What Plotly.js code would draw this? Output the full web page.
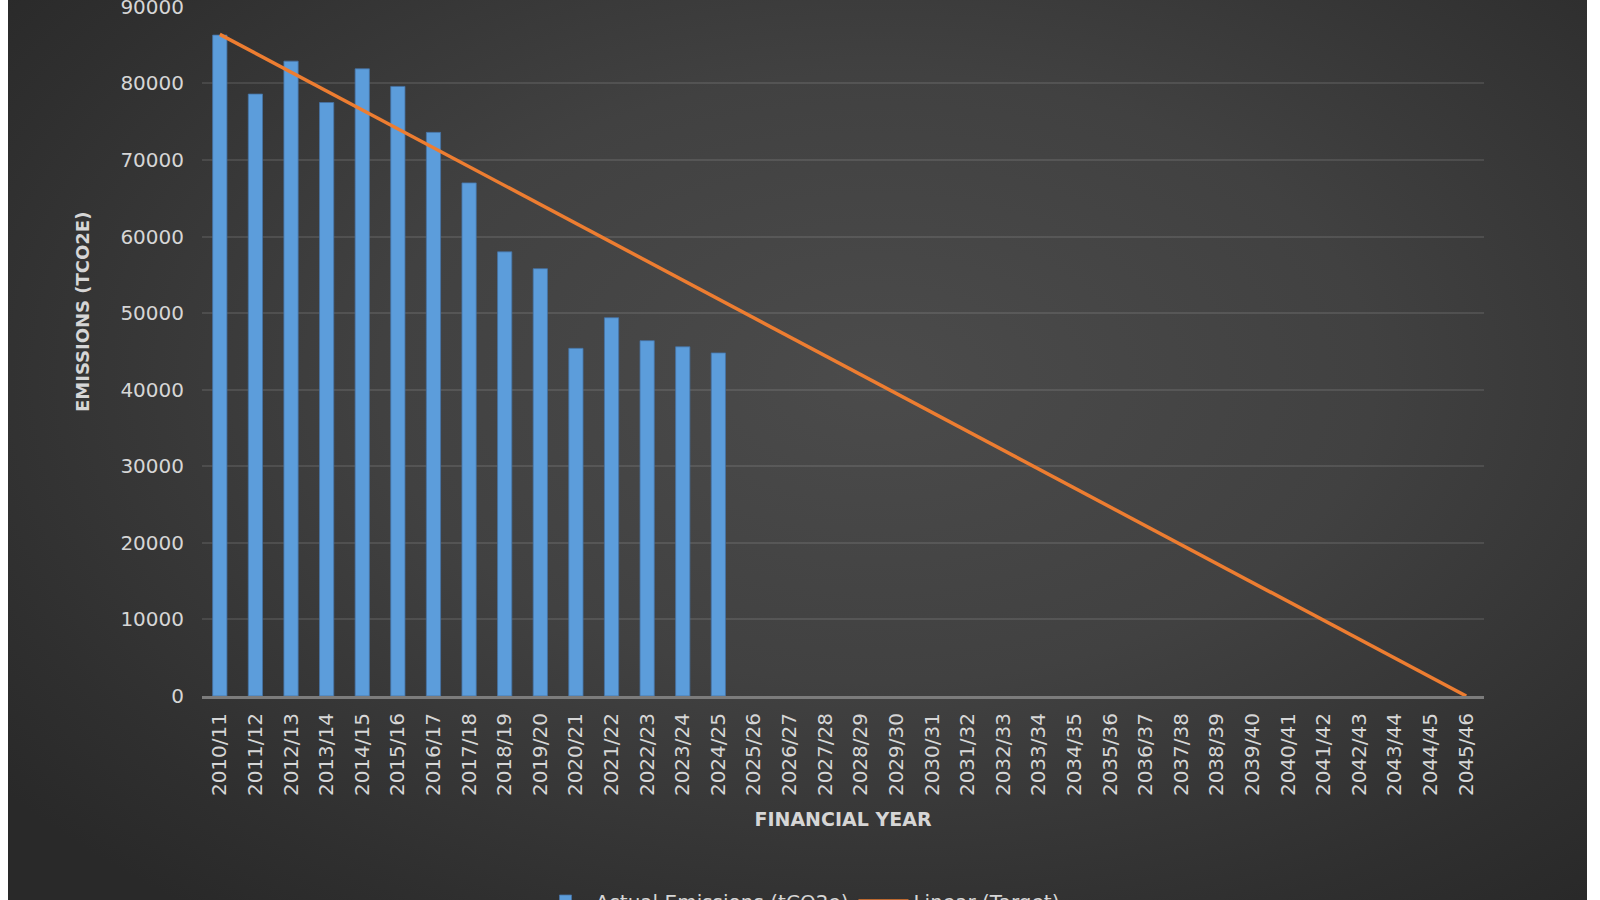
<!DOCTYPE html>
<html>
<head>
<meta charset="utf-8">
<script src="https://cdn.plot.ly/plotly-3.0.1.min.js"></script>
<style>
  html, body { margin: 0; padding: 0; background: #ffffff; }
  #chart {
    position: absolute;
    left: 8px;
    top: 0;
    width: 1579px;
    height: 900px;
    background: radial-gradient(ellipse 70% 75% at 55% 42%, #4b4b4b 0%, #414141 45%, #2f2f2f 85%, #292929 100%);
  }
</style>
</head>
<body>
<div id="chart"></div>
<script>
const years = [
  '2010/11', '2011/12', '2012/13', '2013/14', '2014/15', '2015/16', '2016/17', '2017/18',
  '2018/19', '2019/20', '2020/21', '2021/22', '2022/23', '2023/24', '2024/25', '2025/26',
  '2026/27', '2027/28', '2028/29', '2029/30', '2030/31', '2031/32', '2032/33', '2033/34',
  '2034/35', '2035/36', '2036/37', '2037/38', '2038/39', '2039/40', '2040/41', '2041/42',
  '2042/43', '2043/44', '2044/45', '2045/46'
];
const actualYears = years.slice(0, 15);
const actualEmissions = [
  86300, 78600, 82900, 77500, 81900, 79600, 73600, 67000,
  58000, 55800, 45400, 49400, 46400, 45600, 44800
];
const targetYears = ['2010/11', '2045/46'];
const targetEmissions = [86400, 0];
const yTicks = [0, 10000, 20000, 30000, 40000, 50000, 60000, 70000, 80000, 90000];

const target = document.getElementById('chart');
const width = 1579;
const height = 900;
const margin = { l: 194, r: 103, t: 6, b: 204, autoexpand: false };
const plotW = width - margin.l - margin.r;
const plotH = height - margin.t - margin.b;
const paperX = px => (px - 8 - margin.l) / plotW;
const paperY = py => (height - margin.b - py) / plotH;

const textColor = '#d6d6d6';
const font = 'DejaVu Sans, sans-serif';

const bars = {
  x: actualYears,
  y: actualEmissions,
  type: 'bar',
  name: 'Actual Emissions (tCO2e)',
  width: 0.4,
  marker: {
    color: '#5c9ddb',
    line: { color: 'rgba(70, 115, 165, 0.8)', width: 1 }
  }
};

const targetLine = {
  x: targetYears,
  y: targetEmissions,
  type: 'scatter',
  mode: 'lines',
  name: 'Linear (Target)',
  line: { color: '#ed7d31', width: 3.5 }
};

const layout = {
  width: width,
  height: height,
  paper_bgcolor: 'rgba(0, 0, 0, 0)',
  plot_bgcolor: 'rgba(0, 0, 0, 0)',
  margin: margin,
  font: { family: font, color: textColor, size: 20 },
  xaxis: {
    type: 'category',
    categoryorder: 'array',
    categoryarray: years,
    range: [-0.5, years.length - 0.5],
    tickangle: -90,
    tickfont: { family: font, size: 20, color: textColor },
    ticklabelstandoff: 6,
    automargin: false,
    showline: true,
    linecolor: '#7c7c7c',
    linewidth: 3,
    showgrid: false,
    zeroline: false,
    title: {
      text: '<b>FINANCIAL YEAR</b>',
      font: { family: font, size: 19, color: textColor },
      standoff: 18
    }
  },
  yaxis: {
    range: [0, 90100],
    tickmode: 'array',
    tickvals: yTicks,
    ticktext: yTicks.map(String),
    tickfont: { family: font, size: 20, color: textColor },
    ticklabelstandoff: 17,
    ticklabeloverflow: 'allow',
    automargin: false,
    showline: false,
    gridcolor: 'rgba(255, 255, 255, 0.10)',
    gridwidth: 2,
    zeroline: false
  },
  annotations: [{
    text: '<b>EMISSIONS (TCO2E)</b>',
    xref: 'paper',
    yref: 'paper',
    x: paperX(82),
    y: paperY(312),
    xanchor: 'center',
    yanchor: 'middle',
    textangle: -90,
    showarrow: false,
    font: { family: font, size: 18, color: textColor }
  }],
  showlegend: true,
  legend: {
    orientation: 'h',
    x: paperX(800),
    xanchor: 'center',
    y: paperY(901),
    yanchor: 'middle',
    itemwidth: 50,
    font: { family: font, size: 20, color: textColor },
    bgcolor: 'rgba(0, 0, 0, 0)'
  },
  bargap: 0.6
};

Plotly.newPlot(target, [bars, targetLine], layout, {
  displayModeBar: false,
  staticPlot: true
});
</script>
</body>
</html>
